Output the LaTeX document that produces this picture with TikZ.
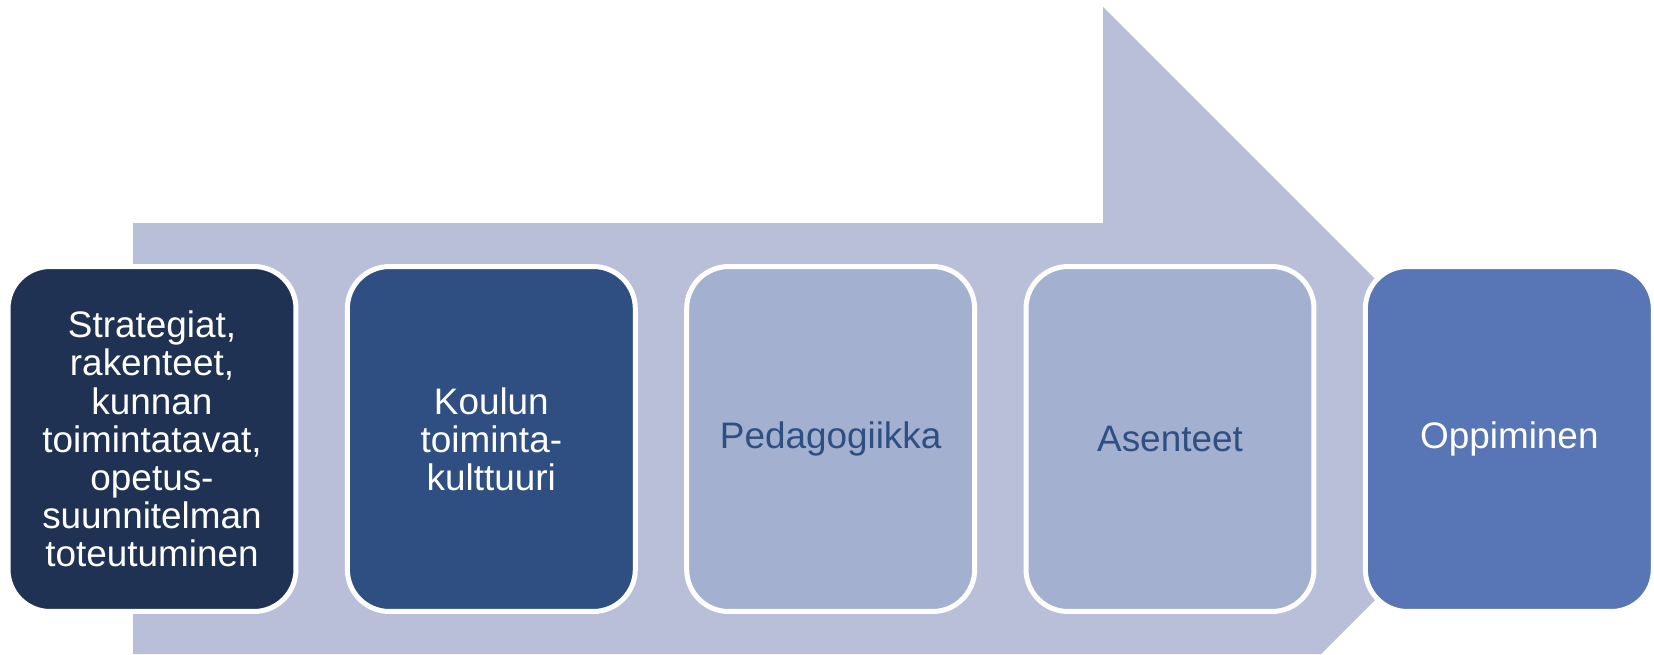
\documentclass[tikz,border=0pt]{standalone}
\usepackage{fontspec}
\setmainfont{Liberation Sans}
\usetikzlibrary{positioning}
\definecolor{arrowlav}{HTML}{B9BFD8}
\definecolor{navydark}{HTML}{1F3253}
\definecolor{navymid}{HTML}{2F4F82}
\definecolor{bluelight}{HTML}{A3B0CF}
\definecolor{bluebright}{HTML}{5876B5}
\tikzset{
    stage/.style={draw=white, line width=0.1cm, rounded corners=0.84cm,
        minimum width=5.76cm, minimum height=6.9cm, inner sep=0pt, outer sep=0pt,
        align=center, text=white, font=\fontsize{21}{21.7}\selectfont},
    lightstage/.style={stage, fill=bluelight, text=navymid}
}

\begin{document}
\begin{tikzpicture}[x=0.02cm, y=-0.02cm, node distance=1.028cm]
\useasboundingbox (0,0) rectangle (1654,654);
% big arrow behind the stages
\fill[arrowlav] (133,223) -- (1103,223) -- (1103,7) -- (1535.5,439.5)
    -- (1321,654) -- (133,654) -- cycle;

\node[stage, fill=navydark] (strategy) at (152,439)
    {Strategiat,\\rakenteet,\\kunnan\\toimintatavat,\\opetus-\\suunnitelman\\toteutuminen};
\node[stage, fill=navymid, right=of strategy] (culture) {Koulun\\toiminta-\\kulttuuri};
\node[lightstage, right=of culture] (pedagogy) {Pedagogiikka};
\node[lightstage, right=of pedagogy] (attitude) {Asenteet};
\node[stage, fill=bluebright, right=of attitude] (learning) {Oppiminen};
\end{tikzpicture}
\end{document}
